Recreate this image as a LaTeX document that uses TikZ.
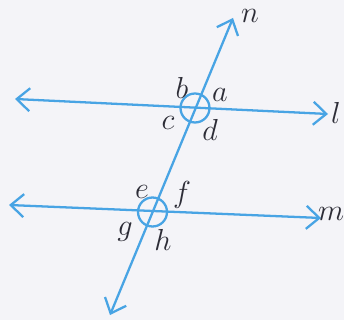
\documentclass[tikz,border=0pt]{standalone}
\usepackage{amsmath,amssymb}
\usetikzlibrary{arrows.meta}
\definecolor{lineblue}{RGB}{72,164,228}
\definecolor{labgray}{RGB}{45,45,55}
\definecolor{paper}{RGB}{244,244,248}

\begin{document}
\begin{tikzpicture}[x=0.02cm,y=-0.02cm,>={Straight Barb[length=2.6mm,width=4.6mm]},
  ln/.style={lineblue,line width=1.3pt},
  lab/.style={labgray,font=\fontsize{16}{18}\selectfont}]
  \fill[paper] (0,0) rectangle (344,320);
  \useasboundingbox (0,0) rectangle (344,320);
  % end points of the lines
  \coordinate (lw) at (15,99);  \coordinate (le) at (328,114);
  \coordinate (mw) at (9,205);  \coordinate (me) at (321,218);
  \coordinate (nn) at (233,18); \coordinate (ns) at (110,315);
  % parallel lines and transversal
  \draw[ln,<->] (lw) -- (le);
  \draw[ln,<->] (mw) -- (me);
  \draw[ln,<->] (ns) -- (nn);
  % circles at the crossings
  \node[ln,draw,circle,minimum size=0.58cm,inner sep=0pt] (P) at (195,108) {};
  \node[ln,draw,circle,minimum size=0.58cm,inner sep=0pt] (Q) at (152.5,212) {};
  % line names
  \node[lab] (nlab) at (250,16) {$n$};
  \node[lab] (llab) at (336,113) {$l$};
  \node[lab] (mlab) at (331,214) {$m$};
  % angle names
  \foreach \x/\y/\lab in {220/95/a,182/88/b,168/123/c,210/130/d,142/192/e,182/195/f,125/232/g,163/240/h}
    \node[lab] (\lab) at (\x,\y) {$\lab$};
\end{tikzpicture}
\end{document}
